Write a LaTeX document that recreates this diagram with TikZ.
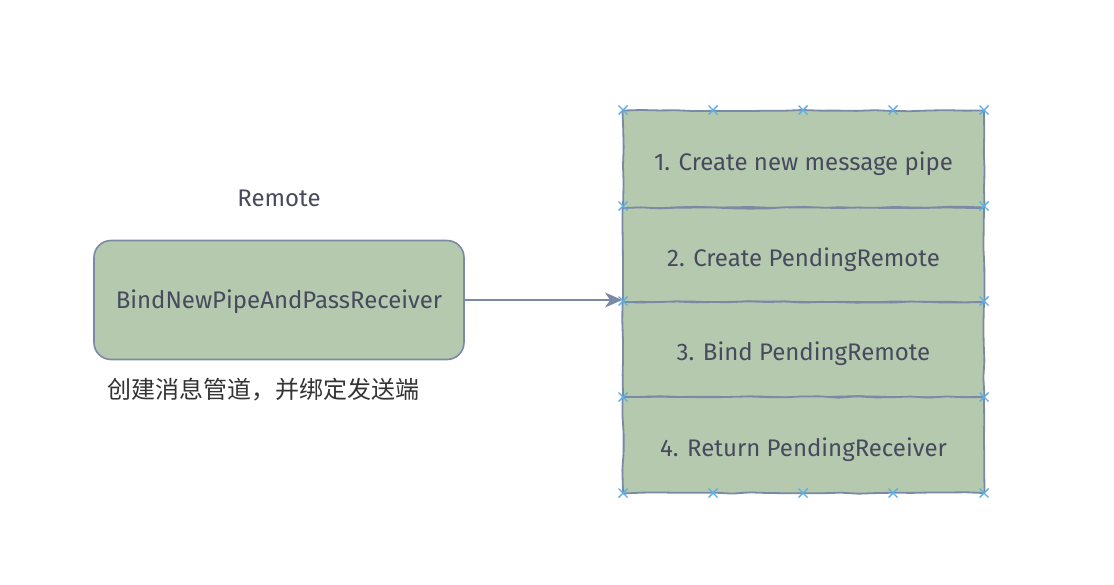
\documentclass[tikz,border=0pt]{standalone}
\usepackage{fontspec}
\setmainfont{Fira Sans}
\newfontfamily\cjk{Noto Sans CJK SC}
\usetikzlibrary{arrows.meta,decorations.pathmorphing}
\definecolor{boxfill}{HTML}{B5C9AE}
\definecolor{boxline}{HTML}{7A8AA5}
\definecolor{txt}{HTML}{474A5E}
\definecolor{mark}{HTML}{5AAFE8}
\tikzset{
  lbl/.style={text=txt,font=\fontsize{24}{28}\selectfont},
  mainbox/.style={draw=boxline,fill=boxfill,line width=1.6pt,rounded corners=17pt,minimum width=370pt,minimum height=119pt,inner sep=0pt,lbl,text height=19pt,text depth=2pt},
  rowbox/.style={draw=boxline,fill=boxfill,line width=1.8pt,minimum width=361pt,inner sep=0pt,lbl,text height=23pt,text depth=1pt,
    decoration={random steps,segment length=18pt,amplitude=0.7pt},decorate,rounded corners=1pt},
  conn/.style={draw=boxline,line width=1.6pt,-{Stealth[length=17pt,width=15pt,inset=5pt]}},
  xm/.style={draw=mark,line width=1.4pt}
}
\pgfmathsetseed{7}
\begin{document}
\begin{tikzpicture}[x=1pt,y=-1pt]
\useasboundingbox (0,0) rectangle (1114,584);
\node[lbl] (remote) at (279,198) {Remote};
\node[mainbox] (bind) at (279,300) {BindNewPipeAndPassReceiver};
\node[text=black!80,font=\cjk\fontsize{24}{28}\selectfont] (cn) at (263,390) {创建消息管道，并绑定发送端};
\node[rowbox,minimum height=97pt] (r1) at (803.5,159) {1. Create new message pipe};
\node[rowbox,minimum height=94pt] (r2) at (803.5,255) {2. Create PendingRemote};
\node[rowbox,minimum height=95pt] (r3) at (803.5,349.5) {3. Bind PendingRemote};
\node[rowbox,minimum height=96pt] (r4) at (803.5,445) {4. Return PendingReceiver};
\draw[conn] (bind.east) -- (bind.east -| r2.west);
\foreach \p in {(623,110),(713,110),(803,110),(893,110),(984,110),
                (623,206),(984,206),(623,301),(984,301),(623,397),(984,397),
                (623,493),(713,493),(803,493),(893,493),(984,493)}{
  \draw[xm] \p ++(-4.5,-4.5) -- ++(9,9) \p ++(-4.5,4.5) -- ++(9,-9);
}
\end{tikzpicture}
\end{document}
